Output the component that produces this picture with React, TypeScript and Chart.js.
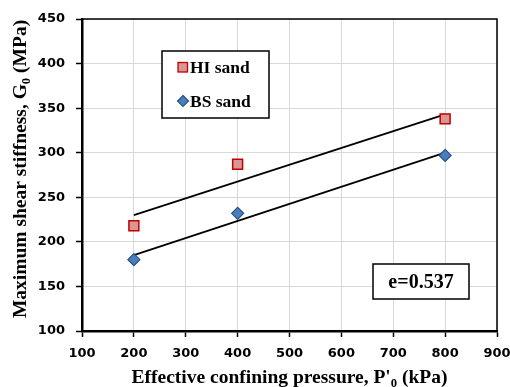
import React, { useEffect, useRef } from "react";
import { Chart, registerables } from "chart.js";

Chart.register(...registerables);

// ---- Data ----
const pressures = [200, 400, 800];
const hiSand = [218, 287, 338];
const bsSand = [180, 232, 297];
const trendX = [200, 800];
const hiTrend = [230, 343];
const bsTrend = [185, 300];
const xTicks = [100, 200, 300, 400, 500, 600, 700, 800, 900];
const yTicks = [100, 150, 200, 250, 300, 350, 400, 450];
const legendLabels = ["HI sand", "BS sand"];
const annotationText = "e=0.537";

const HI_FILL = "#DA9694";
const HI_BORDER = "#C00000";
const BS_FILL = "#4A7EBB";
const BS_BORDER = "#24528A";

const SERIF = '"Liberation Serif", "Times New Roman", serif';
const SANS = '"DejaVu Sans", sans-serif';

type Part = { t: string; sub?: boolean };

function measureParts(ctx: CanvasRenderingContext2D, parts: Part[], size: number) {
  let w = 0;
  for (const p of parts) {
    ctx.font = `bold ${p.sub ? size * 0.65 : size}px ${SERIF}`;
    w += ctx.measureText(p.t).width;
  }
  return w;
}

function drawParts(ctx: CanvasRenderingContext2D, parts: Part[], size: number, cx: number, cy: number, rot: number) {
  ctx.save();
  ctx.translate(cx, cy);
  ctx.rotate(rot);
  ctx.fillStyle = "#000";
  ctx.textBaseline = "alphabetic";
  ctx.textAlign = "left";
  const w = measureParts(ctx, parts, size);
  let x = -w / 2;
  const base = size * 0.35;
  for (const p of parts) {
    const s = p.sub ? size * 0.65 : size;
    ctx.font = `bold ${s}px ${SERIF}`;
    ctx.fillText(p.t, x, p.sub ? base + size * 0.2 : base);
    x += ctx.measureText(p.t).width;
  }
  ctx.restore();
}

const decorPlugin = {
  id: "decor",
  afterDraw(chart: any) {
    const ctx: CanvasRenderingContext2D = chart.ctx;
    const { left, right, top, bottom } = chart.chartArea;
    // top and right frame
    ctx.save();
    ctx.strokeStyle = "#000";
    ctx.lineWidth = 1.5;
    ctx.beginPath();
    ctx.moveTo(left, top);
    ctx.lineTo(right, top);
    ctx.lineTo(right, bottom);
    ctx.stroke();
    ctx.restore();

    // axis titles
    drawParts(
      ctx,
      [{ t: "Effective confining pressure, P'" }, { t: "0", sub: true }, { t: " (kPa)" }],
      19.5,
      (left + right) / 2,
      376.5,
      0
    );
    drawParts(
      ctx,
      [{ t: "Maximum shear stiffness, G" }, { t: "0", sub: true }, { t: " (MPa)" }],
      19.5,
      19,
      (top + bottom) / 2 - 6,
      -Math.PI / 2
    );

    // legend box
    ctx.save();
    const lx = 162, ly = 51, lw = 107, lh = 67;
    ctx.fillStyle = "#fff";
    ctx.fillRect(lx, ly, lw, lh);
    ctx.strokeStyle = "#000";
    ctx.lineWidth = 1.5;
    ctx.strokeRect(lx, ly, lw, lh);
    // HI marker
    ctx.fillStyle = HI_FILL;
    ctx.strokeStyle = HI_BORDER;
    ctx.lineWidth = 1.3;
    ctx.fillRect(178, 62.5, 9.5, 9.5);
    ctx.strokeRect(178, 62.5, 9.5, 9.5);
    // BS marker
    ctx.fillStyle = BS_FILL;
    ctx.strokeStyle = BS_BORDER;
    ctx.lineWidth = 1.2;
    ctx.beginPath();
    ctx.moveTo(183, 95.5);
    ctx.lineTo(188.5, 101);
    ctx.lineTo(183, 106.5);
    ctx.lineTo(177.5, 101);
    ctx.closePath();
    ctx.fill();
    ctx.stroke();
    ctx.fillStyle = "#000";
    ctx.font = `bold 17.5px ${SERIF}`;
    ctx.textBaseline = "middle";
    ctx.textAlign = "left";
    ctx.fillText(legendLabels[0], 190, 68);
    ctx.fillText(legendLabels[1], 190, 102);

    // annotation box
    const ax = 373, ay = 264, aw = 96, ah = 35;
    ctx.fillStyle = "#fff";
    ctx.fillRect(ax, ay, aw, ah);
    ctx.strokeStyle = "#000";
    ctx.lineWidth = 1.5;
    ctx.strokeRect(ax, ay, aw, ah);
    ctx.fillStyle = "#000";
    ctx.font = `bold 20px ${SERIF}`;
    ctx.textAlign = "center";
    ctx.fillText(annotationText, ax + aw / 2, ay + ah / 2 + 1);
    ctx.restore();
  },
};

export default function App() {
  const ref = useRef<HTMLCanvasElement>(null);
  useEffect(() => {
    if (!ref.current) return;
    const chart = new Chart(ref.current, {
      type: "scatter",
      data: {
        datasets: [
          {
            label: legendLabels[0],
            data: pressures.map((x, i) => ({ x, y: hiSand[i] })),
            pointStyle: "rect",
            pointRadius: 7,
            backgroundColor: HI_FILL,
            borderColor: HI_BORDER,
            borderWidth: 1.5,
            showLine: false,
          },
          {
            label: legendLabels[1],
            data: pressures.map((x, i) => ({ x, y: bsSand[i] })),
            pointStyle: "rectRot",
            pointRadius: 6,
            backgroundColor: BS_FILL,
            borderColor: BS_BORDER,
            borderWidth: 1.2,
            showLine: false,
          },
          {
            label: "HI trend",
            data: trendX.map((x, i) => ({ x, y: hiTrend[i] })),
            showLine: true,
            pointRadius: 0,
            borderColor: "#000",
            borderWidth: 1.8,
          },
          {
            label: "BS trend",
            data: trendX.map((x, i) => ({ x, y: bsTrend[i] })),
            showLine: true,
            pointRadius: 0,
            borderColor: "#000",
            borderWidth: 1.8,
          },
        ],
      },
      options: {
        animation: false,
        responsive: false,
        layout: { padding: { top: 19, right: 13, left: 0, bottom: 0 } },
        plugins: { legend: { display: false }, tooltip: { enabled: false } },
        scales: {
          x: {
            type: "linear",
            min: 100,
            max: 900,
            afterBuildTicks: (s: any) => {
              s.ticks = xTicks.map((v) => ({ value: v }));
            },
            afterFit: (s: any) => {
              s.height = 56;
              s.paddingRight = 0;
              s.paddingLeft = 0;
            },
            grid: { color: "#D9D9D9", lineWidth: 1, tickLength: 6, tickColor: "#000", tickWidth: 1.5 },
            border: { color: "#000", width: 2.5 },
            ticks: { font: { family: SANS, size: 13, weight: "bold" }, color: "#000", padding: 9, maxRotation: 0 },
          },
          y: {
            type: "linear",
            min: 100,
            max: 450,
            afterBuildTicks: (s: any) => {
              s.ticks = yTicks.map((v) => ({ value: v }));
            },
            afterFit: (s: any) => {
              s.width = 82;
              s.paddingTop = 0;
              s.paddingBottom = 0;
            },
            grid: { color: "#D9D9D9", lineWidth: 1, tickLength: 6, tickColor: "#000", tickWidth: 1.5 },
            border: { color: "#000", width: 2.5 },
            ticks: { font: { family: SANS, size: 13, weight: "bold" }, color: "#000", padding: 11 },
          },
        },
      },
      plugins: [decorPlugin],
    });
    return () => chart.destroy();
  }, []);
  return (
    <div style={{ position: "absolute", left: 0, top: 0, width: 510, height: 387, background: "#fff" }}>
      <canvas ref={ref} width={510} height={387} style={{ display: "block" }} />
    </div>
  );
}
